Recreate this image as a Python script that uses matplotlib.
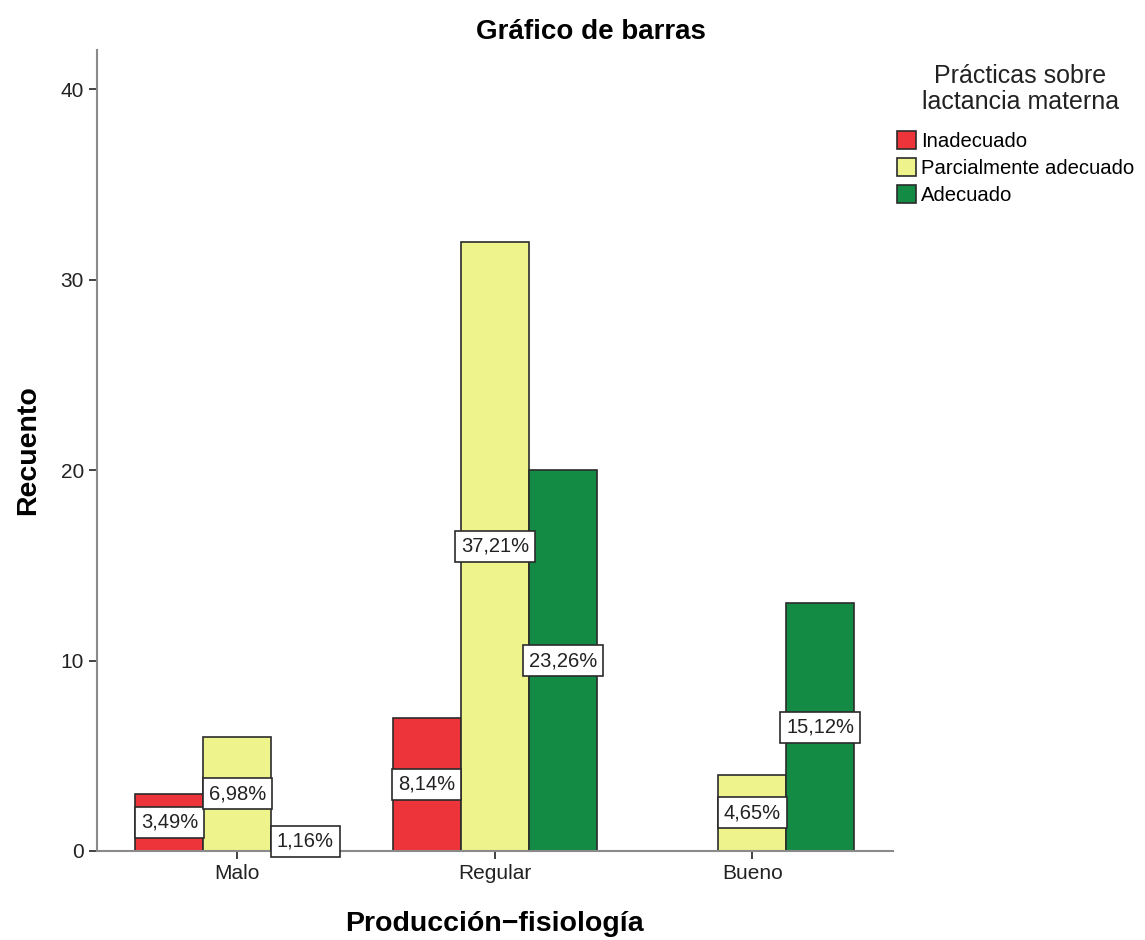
import numpy as np
import matplotlib.pyplot as plt
from matplotlib.patches import Patch

plt.rcParams['font.family'] = ['Liberation Sans', 'DejaVu Sans']

categorias = ['Malo', 'Regular', 'Bueno']
series = ['Inadecuado', 'Parcialmente adecuado', 'Adecuado']
conteos = [
    [3, 7, 0],     # Inadecuado
    [6, 32, 4],    # Parcialmente adecuado
    [1, 20, 13],   # Adecuado
]
etiquetas = [
    ['3,49%', '8,14%', None],
    ['6,98%', '37,21%', '4,65%'],
    ['1,16%', '23,26%', '15,12%'],
]
colores = ['#ED343A', '#EEF38B', '#138B45']
borde = '#2b2b2b'

fig = plt.figure(figsize=(11.45, 9.4), dpi=100)
ax = fig.add_axes([0.0847, 0.0947, 0.695, 0.852])

x = np.arange(len(categorias))
ancho = 0.264
for i, (vals, col) in enumerate(zip(conteos, colores)):
    pos = x + (i - 1) * ancho
    ax.bar(pos, vals, width=ancho, color=col, edgecolor=borde, linewidth=1.2, zorder=2)
    for xp, v, et in zip(pos, vals, etiquetas[i]):
        if et is None:
            continue
        ax.text(xp, v / 2, et, ha='center', va='center', fontsize=14.5, color='#222222', zorder=4,
                bbox=dict(boxstyle='square,pad=0.3', facecolor='white', edgecolor=borde, linewidth=1.2))

ax.set_xlim(-0.545, 2.545)
ax.set_ylim(0, 42.05)
ax.set_yticks([0, 10, 20, 30, 40])
ax.set_xticks(x)
ax.set_xticklabels(categorias)
ax.tick_params(axis='both', labelsize=15, colors='#222222', length=6, width=1.2)
for s in ['top', 'right']:
    ax.spines[s].set_visible(False)
for s in ['left', 'bottom']:
    ax.spines[s].set_color('#8a8a8a')
    ax.spines[s].set_linewidth(1.5)

ax.set_xlabel('Producción\u2212fisiología', fontsize=20.5, fontweight='bold', labelpad=20)
ax.set_ylabel('Recuento', fontsize=20.5, fontweight='bold', labelpad=14)
fig.text(0.516, 0.966, 'Gráfico de barras', ha='center', va='center', fontsize=20, fontweight='bold')

# leyenda: título aparte para controlar el espaciado
fig.text(0.891, 0.905, 'Prácticas sobre\nlactancia materna', ha='center', va='center',
         fontsize=18, linespacing=1.12, color='#222222')
manejadores = [Patch(facecolor=c, edgecolor=borde, linewidth=1.2) for c in colores]
fig.legend(manejadores, series, loc='upper left', bbox_to_anchor=(0.7834, 0.861), frameon=False,
           fontsize=14.6, handlelength=0.95, handleheight=1.0, handletextpad=0.25,
           labelspacing=0.36, borderpad=0.0, borderaxespad=0.0)

fig.savefig('out.png', dpi=100)
